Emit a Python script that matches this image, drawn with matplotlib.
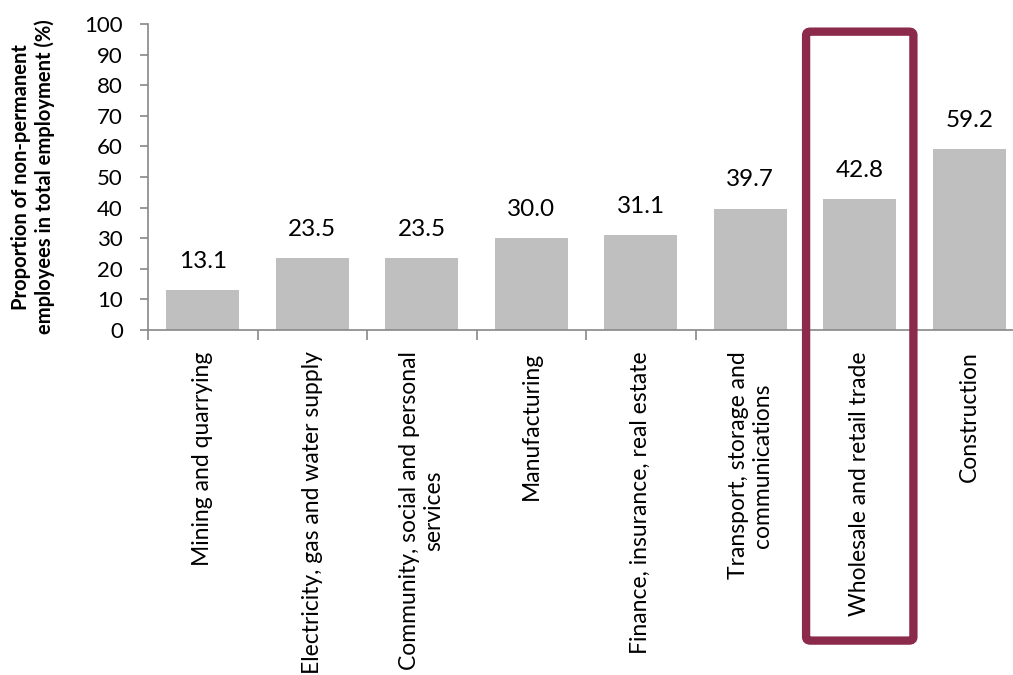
import matplotlib.pyplot as plt
from matplotlib.patches import FancyBboxPatch

plt.rcParams['font.family'] = ['Lato', 'DejaVu Sans']

sectors = ["Mining and quarrying",
           "Electricity, gas and water supply",
           "Community, social and personal\nservices",
           "Manufacturing",
           "Finance, insurance, real estate",
           "Transport, storage and\ncommunications",
           "Wholesale and retail trade",
           "Construction"]
share = [13.1, 23.5, 23.5, 30.0, 31.1, 39.7, 42.8, 59.2]
highlight = "Wholesale and retail trade"

fig = plt.figure(figsize=(10.13, 6.75), dpi=100)
ax = fig.add_axes([148 / 1013, 345 / 675, 876 / 1013, 306 / 675])

x = list(range(len(sectors)))
ax.bar(x, share, width=0.667, color='#BFBFBF', zorder=2)
for xi, v in zip(x, share):
    ax.annotate(f"{v:.1f}", (xi, v), xytext=(0, 13), textcoords='offset points',
                ha='center', va='bottom', fontsize=17.5)

ax.set_xlim(-0.5, len(sectors) - 0.5)
ax.set_ylim(0, 100)
ax.set_yticks(range(0, 101, 10))
ax.tick_params(axis='y', labelsize=16, length=6, width=1.2, color='#888888', pad=12)

# category ticks sit on the boundaries, labels sit under the bars
ax.set_xticks([i - 0.5 for i in range(len(sectors) + 1)])
ax.set_xticklabels([])
ax.tick_params(axis='x', length=7, width=1.2, color='#888888')
for xi, name in zip(x, sectors):
    ax.text(xi, -7, name, rotation=90, ha='center', va='top', multialignment='center',
            fontsize=16.5, transform=ax.transData)

for s in ['top', 'right']:
    ax.spines[s].set_visible(False)
for s in ['left', 'bottom']:
    ax.spines[s].set_color('#888888')
    ax.spines[s].set_linewidth(1.2)

ax.set_ylabel("Proportion of non-permanent\nemployees in total employment (%)",
              fontsize=14.5, fontweight='bold', labelpad=21)

# frame round the highlighted sector
hi = sectors.index(highlight)
box = FancyBboxPatch((hi - 0.49, -101.5), 0.98, 199,
                     boxstyle='round,pad=0,rounding_size=0.04',
                     fill=False, edgecolor='#8B2A4B', linewidth=6,
                     clip_on=False, zorder=3, mutation_aspect=30)
ax.add_patch(box)

fig.savefig('out.png', dpi=100)
